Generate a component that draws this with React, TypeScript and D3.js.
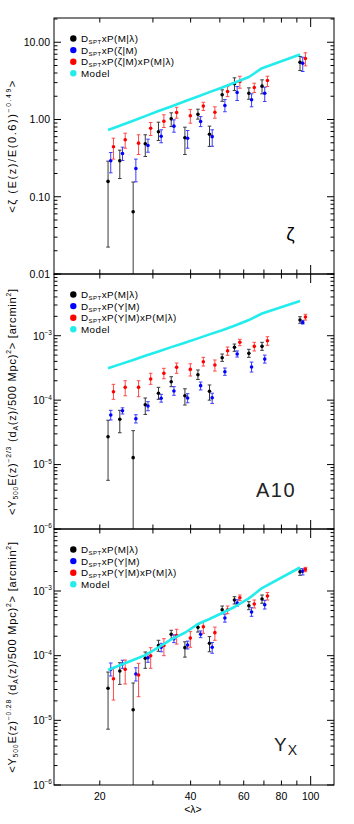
import React, { useRef, useEffect } from "react";
import * as d3 from "d3";

const W = 354;
const H = 824;
const font = "'Liberation Sans', Arial, Helvetica, sans-serif";

const cBlack = "#000000";
const cBlue = "#0000ff";
const cRed = "#ff0000";
const cModel = "#22ecec";

// richness bins (x of the black points)
const lambdaBins = [21.3, 23.3, 25.8, 28.3, 31.3, 34.5, 38.3, 42.3, 46.2, 50.9, 55.9, 62.4, 69.0, 92.2];
const xDomain = [14.1, 119.5];
const xMinorTicks = [20, 30, 40, 50, 60, 70, 80, 90];
const xMajorTicks = [100];
const xTickLabels = [20, 40, 60, 80, 100];

// panel 1 : zeta
const zetaBlack = [0.158, 0.292, 0.064, 0.485, 0.693, 1.02, 0.58, 1.17, 0.645, 2.09, 2.9, 2.19, 2.7, 5.51];
const zetaBlackLo = [0.0223, 0.172, 0.0001, 0.332, 0.535, 0.81, 0.352, 1.01, 0.448, 1.72, 2.37, 1.83, 2.15, 4.3];
const zetaBlackHi = [0.289, 0.401, 0.155, 0.634, 0.923, 1.22, 0.795, 1.36, 0.82, 2.42, 3.46, 2.57, 3.26, 6.53];
const zetaBlue = [0.292, 0.363, 0.232, 0.461, 0.608, 0.82, 0.573, 0.94, 0.6, 1.52, 2.24, 1.8, 2.19, 5.35];
const zetaBlueLo = [0.204, 0.295, 0.156, 0.377, 0.5, 0.685, 0.425, 0.81, 0.45, 1.26, 1.76, 1.46, 1.71, 4.18];
const zetaBlueHi = [0.374, 0.438, 0.307, 0.556, 0.736, 0.99, 0.72, 1.09, 0.736, 1.81, 2.67, 2.15, 2.62, 6.4];
const zetaRed = [0.443, 0.546, 0.494, 0.772, 0.95, 1.23, 1.12, 1.49, 1.24, 2.3, 3.1, 2.59, 3.2, 6.15];
const zetaRedLo = [0.307, 0.425, 0.352, 0.62, 0.788, 1.04, 0.896, 1.31, 1.04, 1.98, 2.54, 2.24, 2.67, 4.95];
const zetaRedHi = [0.573, 0.665, 0.634, 0.915, 1.15, 1.44, 1.35, 1.67, 1.46, 2.67, 3.63, 2.95, 3.63, 7.3];
const zetaModel = [0.73, 0.83, 0.965, 1.106, 1.285, 1.477, 1.72, 1.98, 2.26, 2.6, 2.99, 3.55, 4.62, 6.93];

// panel 2 : A10
const a10Black = [2.71e-5, 5.05e-5, 1.28e-5, 8.5e-5, 1.28e-4, 1.93e-4, 1.17e-4, 2.48e-4, 1.37e-4, 4.56e-4, 6.6e-4, 5.33e-4, 6.84e-4, 1.75e-3];
const a10BlackLo = [5.7e-6, 3.12e-5, 1e-9, 6.0e-5, 1.03e-4, 1.62e-4, 8.4e-5, 2.1e-4, 1.0e-4, 4.0e-4, 5.73e-4, 4.62e-4, 5.93e-4, 1.56e-3];
const a10BlackHi = [4.87e-5, 6.95e-5, 3.36e-5, 1.08e-4, 1.58e-4, 2.31e-4, 1.5e-4, 2.94e-4, 1.72e-4, 5.2e-4, 7.43e-4, 6.15e-4, 7.9e-4, 1.97e-3];
const a10Blue = [5.87e-5, 6.85e-5, 5.15e-5, 8.1e-5, 1.07e-4, 1.39e-4, 1.08e-4, 1.68e-4, 1.09e-4, 2.76e-4, 5.2e-4, 3.27e-4, 4.34e-4, 1.61e-3];
const a10BlueLo = [4.92e-5, 6.1e-5, 4.42e-5, 6.85e-5, 9.3e-5, 1.19e-4, 9.1e-5, 1.44e-4, 8.9e-5, 2.43e-4, 4.67e-4, 2.73e-4, 3.76e-4, 1.52e-3];
const a10BlueHi = [6.95e-5, 7.6e-5, 5.94e-5, 9.46e-5, 1.23e-4, 1.62e-4, 1.26e-4, 1.91e-4, 1.28e-4, 3.15e-4, 5.8e-4, 3.9e-4, 5.0e-4, 1.73e-3];
const a10Red = [1.35e-4, 1.58e-4, 1.58e-4, 2.13e-4, 2.61e-4, 3.23e-4, 3.0e-4, 3.95e-4, 3.51e-4, 5.85e-4, 7.9e-4, 6.84e-4, 8.36e-4, 1.95e-3];
const a10RedLo = [1.03e-4, 1.17e-4, 1.13e-4, 1.76e-4, 2.15e-4, 2.61e-4, 2.37e-4, 3.39e-4, 2.83e-4, 4.96e-4, 7.0e-4, 5.8e-4, 7.1e-4, 1.75e-3];
const a10RedHi = [1.76e-4, 2.0e-4, 2.0e-4, 2.61e-4, 3.12e-4, 3.77e-4, 3.67e-4, 4.62e-4, 4.2e-4, 6.68e-4, 8.8e-4, 7.9e-4, 9.65e-4, 2.15e-3];
const a10Model = [3.12e-4, 3.59e-4, 4.2e-4, 4.88e-4, 5.7e-4, 6.65e-4, 7.8e-4, 9.1e-4, 1.05e-3, 1.22e-3, 1.43e-3, 1.75e-3, 2.21e-3, 3.46e-3];

// panel 3 : Yx
const yxBlack = [3.13e-5, 5.8e-5, 1.46e-5, 9.1e-5, 1.44e-4, 2.14e-4, 1.33e-4, 2.74e-4, 1.55e-4, 5.14e-4, 7.26e-4, 5.93e-4, 7.52e-4, 1.99e-3];
const yxBlackLo = [7.3e-6, 3.6e-5, 1e-9, 6.38e-5, 1.17e-4, 1.79e-4, 9.5e-5, 2.32e-4, 1.15e-4, 4.46e-4, 6.3e-4, 5.14e-4, 6.46e-4, 1.75e-3];
const yxBlackHi = [5.58e-5, 7.78e-5, 3.78e-5, 1.14e-4, 1.73e-4, 2.47e-4, 1.64e-4, 3.05e-4, 1.97e-4, 5.86e-4, 8.17e-4, 6.84e-4, 8.67e-4, 2.21e-3];
const yxBlue = [6.15e-5, 7.43e-5, 5.2e-5, 9.3e-5, 1.35e-4, 1.83e-4, 1.46e-4, 2.14e-4, 1.35e-4, 3.83e-4, 6.52e-4, 4.73e-4, 6.14e-4, 2.02e-3];
const yxBlueLo = [4.85e-5, 6.38e-5, 4.06e-5, 7.9e-5, 1.15e-4, 1.59e-4, 1.27e-4, 1.9e-4, 1.09e-4, 3.3e-4, 5.86e-4, 4.06e-4, 5.27e-4, 1.77e-3];
const yxBlueHi = [7.7e-5, 8.5e-5, 6.5e-5, 1.09e-4, 1.55e-4, 2.1e-4, 1.68e-4, 2.41e-4, 1.6e-4, 4.4e-4, 7.34e-4, 5.52e-4, 7.18e-4, 2.21e-3];
const yxRed = [4.4e-5, 6.15e-5, 5.02e-5, 1.0e-4, 1.44e-4, 2.04e-4, 1.87e-4, 2.8e-4, 2.27e-4, 5.14e-4, 7.87e-4, 6.3e-4, 8.37e-4, 2.16e-3];
const yxRedLo = [2.06e-5, 3.65e-5, 2.32e-5, 6.38e-5, 1.0e-4, 1.51e-4, 1.35e-4, 2.22e-4, 1.73e-4, 4.46e-4, 7.08e-4, 5.46e-4, 7.26e-4, 1.99e-3];
const yxRedHi = [6.38e-5, 8.57e-5, 7.62e-5, 1.33e-4, 1.83e-4, 2.56e-4, 2.35e-4, 3.4e-4, 2.77e-4, 5.86e-4, 8.67e-4, 7.26e-4, 9.5e-4, 2.32e-3];
const yxModel = [6.0e-5, 7.1e-5, 8.57e-5, 1.02e-4, 1.34e-4, 1.79e-4, 2.26e-4, 3.09e-4, 3.69e-4, 4.57e-4, 5.66e-4, 7.7e-4, 1.11e-3, 2.31e-3];

type Part = { t: string; s?: "sup" | "sub" };

const zetaLegend: Part[][] = [
  [{ t: "D" }, { t: "SPT", s: "sub" }, { t: "xP(M|λ)" }],
  [{ t: "D" }, { t: "SPT", s: "sub" }, { t: "xP(ζ|M)" }],
  [{ t: "D" }, { t: "SPT", s: "sub" }, { t: "xP(ζ|M)xP(M|λ)" }],
  [{ t: "Model" }]
];
const yLegend: Part[][] = [
  [{ t: "D" }, { t: "SPT", s: "sub" }, { t: "xP(M|λ)" }],
  [{ t: "D" }, { t: "SPT", s: "sub" }, { t: "xP(Y|M)" }],
  [{ t: "D" }, { t: "SPT", s: "sub" }, { t: "xP(Y|M)xP(M|λ)" }],
  [{ t: "Model" }]
];

const panels = [
  {
    top: 18, bottom: 274, yDomain: [0.01, 20.6], decades: [0.01, 0.1, 1, 10], fixed: true,
    black: [zetaBlack, zetaBlackLo, zetaBlackHi], blue: [zetaBlue, zetaBlueLo, zetaBlueHi],
    red: [zetaRed, zetaRedLo, zetaRedHi], model: zetaModel, legend: zetaLegend, titleSpacing: 1.6,
    title: [{ t: "<ζ (E(z)/E(0.6))" }, { t: "−0.49", s: "sup" }, { t: ">" }] as Part[]
  },
  {
    top: 274, bottom: 529, yDomain: [1e-6, 9.08e-3], decades: [1e-6, 1e-5, 1e-4, 1e-3], fixed: false,
    black: [a10Black, a10BlackLo, a10BlackHi], blue: [a10Blue, a10BlueLo, a10BlueHi],
    red: [a10Red, a10RedLo, a10RedHi], model: a10Model, legend: yLegend, titleSpacing: 0.8,
    title: [{ t: "<Y" }, { t: "500", s: "sub" }, { t: "E(z)" }, { t: "−2/3", s: "sup" }, { t: " (d" }, { t: "A", s: "sub" },
      { t: "(z)/500 Mpc)" }, { t: "2", s: "sup" }, { t: "> [arcmin" }, { t: "2", s: "sup" }, { t: "]" }] as Part[]
  },
  {
    top: 529, bottom: 785, yDomain: [1e-6, 9.1e-3], decades: [1e-6, 1e-5, 1e-4, 1e-3], fixed: false,
    black: [yxBlack, yxBlackLo, yxBlackHi], blue: [yxBlue, yxBlueLo, yxBlueHi],
    red: [yxRed, yxRedLo, yxRedHi], model: yxModel, legend: yLegend, titleSpacing: 0.8,
    title: [{ t: "<Y" }, { t: "500", s: "sub" }, { t: "E(z)" }, { t: "−0.28", s: "sup" }, { t: " (d" }, { t: "A", s: "sub" },
      { t: "(z)/500 Mpc)" }, { t: "2", s: "sup" }, { t: "> [arcmin" }, { t: "2", s: "sup" }, { t: "]" }] as Part[]
  }
];

function rich(sel: any, parts: Part[], size: number) {
  let cur = 0;
  parts.forEach(p => {
    const target = p.s === "sup" ? -size * 0.42 : p.s === "sub" ? size * 0.22 : 0;
    const ts = sel.append("tspan").attr("dy", target - cur).text(p.t);
    if (p.s) ts.attr("font-size", size * 0.62);
    cur = target;
  });
}

export default function App() {
  const ref = useRef<SVGSVGElement>(null);

  useEffect(() => {
    const svg = d3.select(ref.current);
    svg.selectAll("*").remove();
    svg.style("font-family", font).style("background", "#fff");

    const left = 54;
    const right = 334;
    const x = d3.scaleLog().domain(xDomain).range([left, right]);

    panels.forEach((p, pi) => {
      const y = d3.scaleLog().domain(p.yDomain).range([p.bottom, p.top]);
      const g = svg.append("g");

      const clipId = "clip" + pi;
      svg.append("clipPath").attr("id", clipId)
        .append("rect").attr("x", left).attr("y", p.top).attr("width", right - left).attr("height", p.bottom - p.top);

      const data = g.append("g").attr("clip-path", `url(#${clipId})`);
      const series = [
        { v: p.black, c: cBlack, bar: "#3a3a3a", dx: 0 },
        { v: p.blue, c: cBlue, bar: "#3c3cff", dx: 2.7 },
        { v: p.red, c: cRed, bar: "#ff4a4a", dx: 5.4 }
      ];
      series.forEach(s => {
        const [vals, lo, hi] = s.v;
        lambdaBins.forEach((l, i) => {
          const cx = x(l) + s.dx;
          const y0 = y(lo[i]);
          const y1 = y(hi[i]);
          data.append("line").attr("x1", cx).attr("x2", cx).attr("y1", y0).attr("y2", y1)
            .attr("stroke", s.bar).attr("stroke-width", 1);
          [y0, y1].forEach(yy => {
            if (yy < p.bottom) {
              data.append("line").attr("x1", cx - 1.8).attr("x2", cx + 1.8).attr("y1", yy).attr("y2", yy)
                .attr("stroke", s.bar).attr("stroke-width", 1);
            }
          });
          data.append("circle").attr("cx", cx).attr("cy", y(vals[i])).attr("r", 1.8).attr("fill", s.c);
        });
      });

      const line = d3.line<number>().x((d, i) => x(lambdaBins[i])).y(d => y(d));
      data.append("path").attr("d", line(p.model) as string).attr("fill", "none")
        .attr("stroke", cModel).attr("stroke-width", 2.6).attr("stroke-linejoin", "round");

      // frame
      g.append("rect").attr("x", left).attr("y", p.top).attr("width", right - left).attr("height", p.bottom - p.top)
        .attr("fill", "none").attr("stroke", "#000").attr("stroke-width", 1);

      // y ticks
      p.decades.forEach(d => {
        const yy = y(d);
        g.append("line").attr("x1", left).attr("x2", left + 7).attr("y1", yy).attr("y2", yy).attr("stroke", "#000");
        g.append("line").attr("x1", right).attr("x2", right - 7).attr("y1", yy).attr("y2", yy).attr("stroke", "#000");
        const t = g.append("text").attr("x", p.fixed ? 50 : 52).attr("y", yy + 3.8)
          .attr("text-anchor", "end").attr("font-size", 10.5).attr("fill", "#000");
        if (p.fixed) {
          t.text(d.toFixed(2));
        } else {
          rich(t, [{ t: "10" }, { t: "−" + Math.round(-Math.log10(d)), s: "sup" }], 10.5);
        }
        for (let k = 2; k <= 9; k++) {
          const v = d * k;
          if (v > p.yDomain[1]) break;
          const ym = y(v);
          g.append("line").attr("x1", left).attr("x2", left + 3.5).attr("y1", ym).attr("y2", ym).attr("stroke", "#000");
          g.append("line").attr("x1", right).attr("x2", right - 3.5).attr("y1", ym).attr("y2", ym).attr("stroke", "#000");
        }
      });

      // x ticks
      xMinorTicks.forEach(v => {
        const xx = x(v);
        g.append("line").attr("x1", xx).attr("x2", xx).attr("y1", p.bottom).attr("y2", p.bottom - 4.5).attr("stroke", "#000");
        g.append("line").attr("x1", xx).attr("x2", xx).attr("y1", p.top).attr("y2", p.top + 4.5).attr("stroke", "#000");
      });
      xMajorTicks.forEach(v => {
        const xx = x(v);
        g.append("line").attr("x1", xx).attr("x2", xx).attr("y1", p.bottom).attr("y2", p.bottom - 9).attr("stroke", "#000");
        g.append("line").attr("x1", xx).attr("x2", xx).attr("y1", p.top).attr("y2", p.top + 9).attr("stroke", "#000");
      });

      // legend
      const legColors = [cBlack, cBlue, cRed, cModel];
      p.legend.forEach((parts, i) => {
        const ly = p.top + 20.5 + i * 11.6;
        g.append("circle").attr("cx", 73.3).attr("cy", ly).attr("r", 3.2).attr("fill", legColors[i]);
        const t = g.append("text").attr("x", 81).attr("y", ly + 3.6).attr("font-size", 9.8)
          .attr("letter-spacing", 0.45).attr("fill", "#000");
        rich(t, parts, 9.8);
      });

      // y title
      const cy = (p.top + p.bottom) / 2;
      const tt = g.append("text").attr("transform", `translate(16,${cy}) rotate(-90)`)
        .attr("text-anchor", "middle").attr("font-size", 11).attr("letter-spacing", p.titleSpacing).attr("fill", "#000");
      rich(tt, p.title, 11);
    });

    // panel tags
    svg.append("text").attr("x", 290.5).attr("y", 240).attr("text-anchor", "middle")
      .attr("font-size", 19).attr("fill", "#000").text("ζ");
    svg.append("text").attr("x", 256).attr("y", 497).attr("font-size", 20).attr("letter-spacing", 1.5)
      .attr("fill", "#222").text("A10");
    const yx = svg.append("text").attr("x", 274).attr("y", 751).attr("font-size", 19).attr("fill", "#222");
    yx.append("tspan").text("Y");
    yx.append("tspan").attr("dx", 1).attr("dy", 4).attr("font-size", 14).text("X");

    // x axis labels (bottom panel)
    xTickLabels.forEach(v => {
      svg.append("text").attr("x", x(v)).attr("y", 800).attr("text-anchor", "middle")
        .attr("font-size", 10.5).attr("fill", "#000").text(String(v));
    });
    svg.append("text").attr("x", 193).attr("y", 813).attr("text-anchor", "middle")
      .attr("font-size", 10.5).attr("fill", "#000").text("<λ>");
  }, []);

  return (
    <div style={{ position: "absolute", left: 0, top: 0, width: W, height: H, background: "#fff" }}>
      <svg ref={ref} width={W} height={H}></svg>
    </div>
  );
}
